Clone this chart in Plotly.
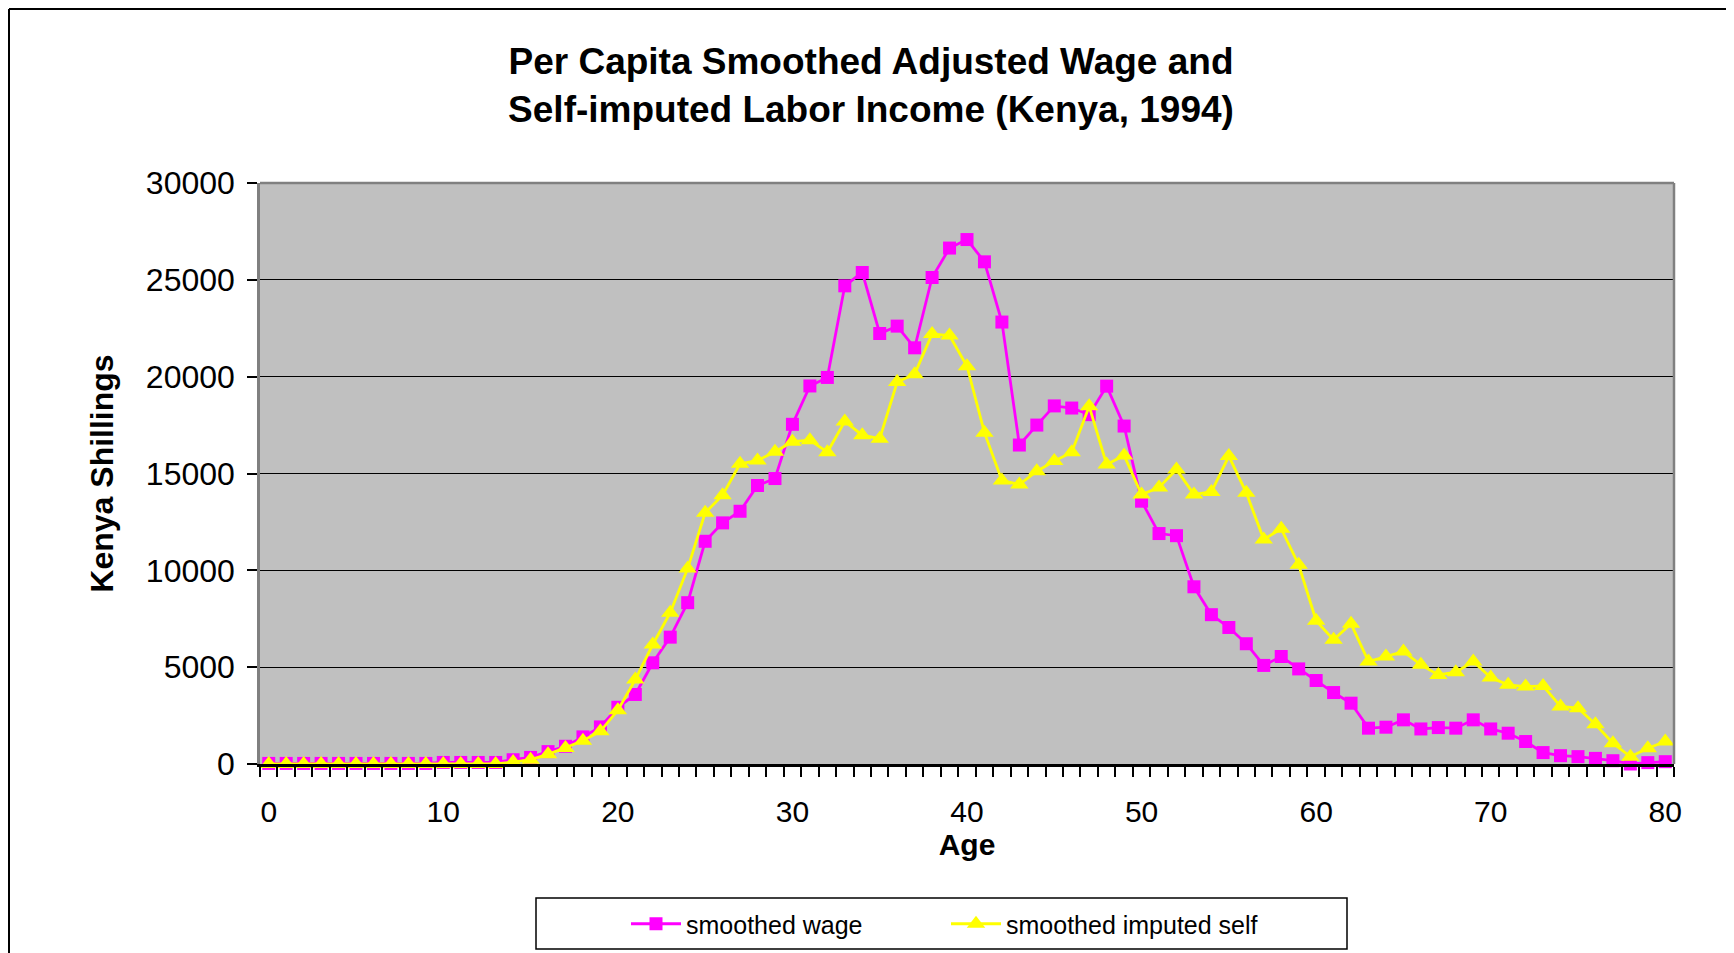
import plotly.graph_objects as go

# ---------------- data ----------------
ages = list(range(81))

smoothed_wage = [
    30, 30, 30, 30, 30, 30, 30, 30, 30, 30,
    80, 80, 80, 80, 220, 340, 640, 915, 1400, 1915,
    2930, 3590, 5225, 6550, 8330, 11500, 12450, 13050, 14380, 14740,
    17540, 19520, 19960, 24690, 25380, 22230, 22610, 21490, 25120, 26640,
    27080, 25930, 22820, 16470, 17500, 18490, 18380, 18040, 19510, 17450,
    13570, 11900, 11790, 9150, 7710, 7050, 6210, 5090, 5550, 4910,
    4310, 3690, 3140, 1850, 1900, 2280, 1810, 1880, 1850, 2280,
    1810, 1590, 1160, 590, 430, 380, 290, 170, 0, 70,
    120,
]

smoothed_imputed_self = [
    0, 0, 0, 0, 0, 0, 0, 0, 0, 0,
    0, 0, 0, 0, 100, 225, 500, 830, 1200, 1690,
    2775, 4360, 6170, 7810, 10100, 12970, 13880, 15500, 15670, 16120,
    16640, 16720, 16100, 17690, 16980, 16800, 19720, 20130, 22200, 22120,
    20540, 17110, 14640, 14430, 15120, 15640, 16100, 18470, 15470, 15930,
    13910, 14280, 15210, 13920, 14050, 15900, 14000, 11590, 12150, 10290,
    7400, 6410, 7240, 5290, 5550, 5810, 5120, 4600, 4740, 5290,
    4470, 4090, 4000, 4030, 2970, 2880, 2050, 1070, 380, 810,
    1160,
]

x_tick_vals = [0, 10, 20, 30, 40, 50, 60, 70, 80]
x_tick_labels = ["0", "10", "20", "30", "40", "50", "60", "70", "80"]
y_tick_vals = [0, 5000, 10000, 15000, 20000, 25000, 30000]
y_tick_labels = ["0", "5000", "10000", "15000", "20000", "25000", "30000"]
category_edges = [a - 0.5 for a in range(82)]

# ---------------- figure ----------------
# page body has an 8px margin, so the figure is drawn 8px in from the window edge
W, H = 1726, 945
L, R, T, B = 252, 60, 175, 189
pw, ph = W - L - R, H - T - B
OFF = 8


def px_x(p):  # window pixel -> paper x
    return (p - OFF - L) / pw


def px_y(p):  # window pixel -> paper y
    return (H - B - (p - OFF)) / ph


FONT = "Liberation Sans, Arial, sans-serif"

fig = go.Figure()

fig.add_trace(go.Scatter(
    x=ages, y=smoothed_wage, name="smoothed wage",
    mode="lines+markers",
    line=dict(color="#FF00FF", width=2.8),
    marker=dict(symbol="square", size=13, color="#FF00FF", line=dict(width=0)),
    cliponaxis=False, legend="legend",
))
fig.add_trace(go.Scatter(
    x=ages, y=smoothed_imputed_self, name="smoothed imputed self",
    mode="lines+markers",
    line=dict(color="#FFFF00", width=2.8),
    marker=dict(symbol="triangle-up", size=16, color="#FFFF00", line=dict(width=0)),
    cliponaxis=False, legend="legend2",
))

shapes = [
    # plot-area border (top/right gray)
    dict(type="line", xref="paper", yref="paper", x0=0, x1=1, y0=1, y1=1,
         line=dict(color="#808080", width=2.5), layer="above"),
    dict(type="line", xref="paper", yref="paper", x0=1, x1=1, y0=0, y1=1,
         line=dict(color="#808080", width=2.5), layer="above"),
    # outer frame of the picture
    dict(type="line", xref="paper", yref="paper", x0=px_x(9), x1=px_x(1740),
         y0=px_y(9), y1=px_y(9), line=dict(color="black", width=2)),
    dict(type="line", xref="paper", yref="paper", x0=px_x(9), x1=px_x(9),
         y0=px_y(9), y1=px_y(960), line=dict(color="black", width=2)),
    # legend box
    dict(type="rect", xref="paper", yref="paper", x0=px_x(536), x1=px_x(1347),
         y0=px_y(949), y1=px_y(898), line=dict(color="black", width=1.5),
         fillcolor="rgba(0,0,0,0)"),
]

fig.update_layout(
    width=W, height=H,
    margin=dict(l=L, r=R, t=T, b=B, autoexpand=False),
    paper_bgcolor="white",
    plot_bgcolor="#C0C0C0",
    font=dict(family=FONT, color="black"),
    title=dict(
        text="<b>Per Capita Smoothed Adjusted Wage and<br>Self-imputed Labor Income (Kenya, 1994)</b>",
        x=0.5, xanchor="center", xref="container",
        y=1 - 66 / H, yanchor="middle", yref="container",
        font=dict(size=37, family=FONT, color="black"),
    ),
    xaxis=dict(
        range=[-0.5, 80.5],
        tickmode="array", tickvals=x_tick_vals, ticktext=x_tick_labels,
        ticks="", showgrid=False, zeroline=False,
        showline=True, linecolor="black", linewidth=2.5,
        tickfont=dict(size=30, family=FONT, color="black"),
        ticklabelstandoff=19,
        minor=dict(tickmode="array", tickvals=category_edges, ticks="outside",
                   ticklen=10, tickwidth=1.5, tickcolor="black", showgrid=False),
        title=dict(text="<b>Age</b>", font=dict(size=30, family=FONT, color="black"),
                   standoff=2),
    ),
    yaxis=dict(
        range=[0, 30000],
        tickmode="array", tickvals=y_tick_vals, ticktext=y_tick_labels,
        ticks="outside", ticklen=10, tickwidth=1.5, tickcolor="black",
        showgrid=True, gridcolor="black", gridwidth=1.3,
        zeroline=False,
        showline=True, linecolor="#808080", linewidth=2.5,
        tickfont=dict(size=32, family=FONT, color="black"),
        ticklabelstandoff=6,
        title=dict(text="<b>Kenya Shillings</b>", font=dict(size=32, family=FONT, color="black"),
                   standoff=23),
    ),
    legend=dict(
        x=px_x(626), y=px_y(924), xanchor="left", yanchor="middle",
        orientation="h", bgcolor="rgba(0,0,0,0)", borderwidth=0,
        itemwidth=50, font=dict(size=25, family=FONT, color="black"),
    ),
    legend2=dict(
        x=px_x(946), y=px_y(924), xanchor="left", yanchor="middle",
        orientation="h", bgcolor="rgba(0,0,0,0)", borderwidth=0,
        itemwidth=50, font=dict(size=25, family=FONT, color="black"),
    ),
    shapes=shapes,
    showlegend=True,
)

fig.write_html("out.html")
